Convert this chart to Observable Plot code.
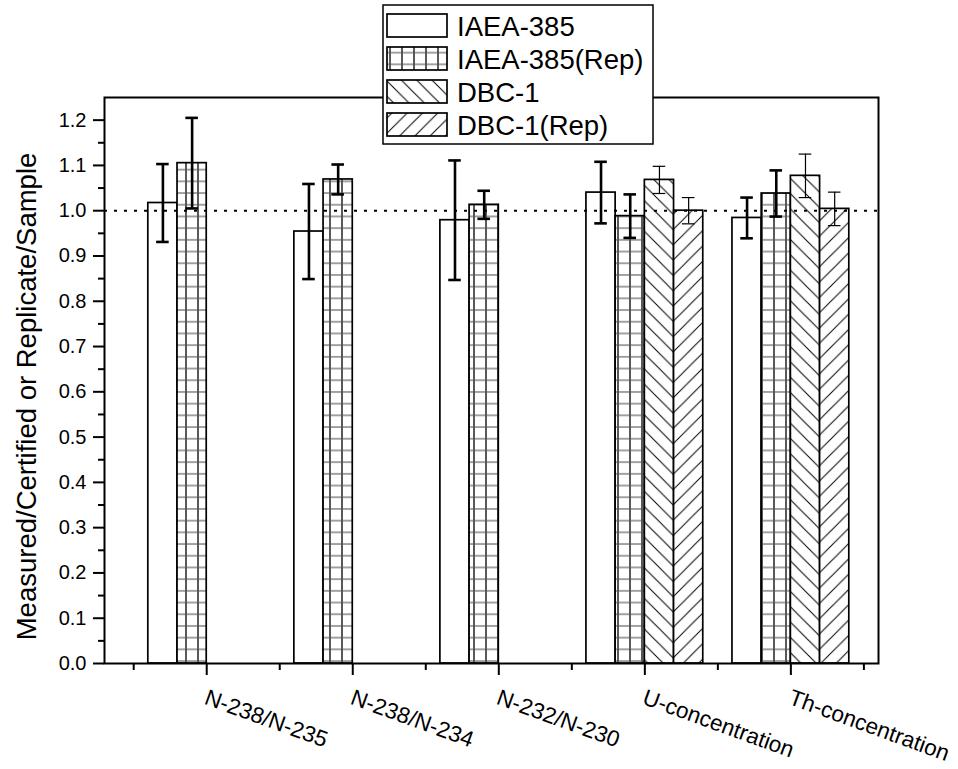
<!DOCTYPE html>
<html>
<head>
<meta charset="utf-8">
<script src="https://cdn.jsdelivr.net/npm/d3@7"></script>
<script src="https://cdn.jsdelivr.net/npm/@observablehq/plot@0.6"></script>
<style>
  html, body { margin: 0; padding: 0; background: #fff; }
  #wrap { position: relative; width: 958px; height: 769px; font-family: Arial, "Liberation Sans", sans-serif; }
  #legend { position: absolute; left: 0; top: 0; pointer-events: none; }
</style>
</head>
<body>
<svg width="0" height="0" style="position:absolute">
  <defs>
    <pattern id="pat-grid" patternUnits="userSpaceOnUse" width="12" height="11.7">
      <rect width="12" height="11.7" fill="white"/>
      <path d="M6,-1 V12.7" stroke="black" stroke-width="1.3"/>
      <path d="M-1,5.85 H13" stroke="#555" stroke-width="1.1"/>
    </pattern>
    <pattern id="pat-back" patternUnits="userSpaceOnUse" width="15.3" height="15.3">
      <rect width="15.3" height="15.3" fill="white"/>
      <path d="M-1,-1 L16.3,16.3 M-1,14.3 L1,16.3 M14.3,-1 L16.3,1" stroke="black" stroke-width="1"/>
    </pattern>
    <pattern id="pat-fwd" patternUnits="userSpaceOnUse" width="15.3" height="15.3">
      <rect width="15.3" height="15.3" fill="white"/>
      <path d="M-1,16.3 L16.3,-1 M-1,1 L1,-1 M14.3,16.3 L16.3,14.3" stroke="black" stroke-width="1"/>
    </pattern>
  </defs>
</svg>
<div id="wrap"></div>
<script>
// ---------- data ----------
const categories = ["N-238/N-235", "N-238/N-234", "N-232/N-230", "U-concentration", "Th-concentration"];
const series = ["IAEA-385", "IAEA-385(Rep)", "DBC-1", "DBC-1(Rep)"];
const iaea       = [1.017, 0.954, 0.979, 1.040, 0.984];
const iaeaErr    = [0.086, 0.105, 0.132, 0.068, 0.045];
const iaeaRep    = [1.105, 1.069, 1.013, 0.988, 1.038];
const iaeaRepErr = [0.100, 0.033, 0.031, 0.048, 0.051];
const dbc        = [null, null, null, 1.068, 1.077];
const dbcErr     = [null, null, null, 0.030, 0.048];
const dbcRep     = [null, null, null, 1.000, 1.004];
const dbcRepErr  = [null, null, null, 0.029, 0.037];
const yTicks      = [0, 0.1, 0.2, 0.3, 0.4, 0.5, 0.6, 0.7, 0.8, 0.9, 1.0, 1.1, 1.2];
const yMinorTicks = [0.05, 0.15, 0.25, 0.35, 0.45, 0.55, 0.65, 0.75, 0.85, 0.95, 1.05, 1.15];
const xMinorTicks = [0.5, 1.5, 2.5, 3.5, 4.5, 5.5];
const yLabel = "Measured/Certified or Replicate/Sample";

// ---------- styling ----------
const fills = ["white", "url(#pat-grid)", "url(#pat-back)", "url(#pat-fwd)"];
const errWidth = [2.6, 2.6, 1.2, 1.2];
const barW = 0.2;       // in x units
const capHalf = 0.043;  // in x units

const values = [iaea, iaeaRep, dbc, dbcRep];
const errors = [iaeaErr, iaeaRepErr, dbcErr, dbcRepErr];
const rows = [];
series.forEach((s, k) => {
  categories.forEach((c, i) => {
    const v = values[k][i];
    if (v == null) return;
    const x1 = (i + 1) + (k - 2) * barW;
    rows.push({series: s, k, category: c, x1, x2: x1 + barW, xc: x1 + barW / 2,
               v, lo: v - errors[k][i], hi: v + errors[k][i]});
  });
});

const font = 'Arial, "Liberation Sans", sans-serif';

const chart = Plot.plot({
  width: 958,
  height: 769,
  marginLeft: 104,
  marginRight: 80,
  marginTop: 97,
  marginBottom: 106,
  style: {fontFamily: font, background: "white", color: "black", overflow: "visible"},
  x: {type: "linear", domain: [0.3, 5.6]},
  y: {domain: [0, 1.25]},
  marks: [
    Plot.rect(rows, {x1: "x1", x2: "x2", y1: 0, y2: "v", fill: d => fills[d.k], stroke: "black", strokeWidth: 1.7}),
    Plot.ruleY([1], {stroke: "black", strokeWidth: 2, strokeDasharray: "3,7"}),
    // error bars
    Plot.ruleX(rows, {x: "xc", y1: "lo", y2: "hi", stroke: "black", strokeWidth: d => errWidth[d.k]}),
    Plot.ruleY(rows, {y: "hi", x1: d => d.xc - capHalf, x2: d => d.xc + capHalf, stroke: "black", strokeWidth: d => errWidth[d.k]}),
    Plot.ruleY(rows, {y: "lo", x1: d => d.xc - capHalf, x2: d => d.xc + capHalf, stroke: "black", strokeWidth: d => errWidth[d.k]}),
    // axes
    Plot.axisY({ticks: yTicks, tickFormat: d3.format(".1f"), tickSize: 11, tickPadding: 7, fontSize: 20, strokeWidth: 2, label: null}),
    Plot.axisY({ticks: yMinorTicks, tickFormat: () => "", tickSize: 6, strokeWidth: 2, label: null}),
    Plot.axisX({ticks: [1, 2, 3, 4, 5], tickFormat: () => "", tickSize: 12, strokeWidth: 2, label: null}),
    Plot.axisX({ticks: xMinorTicks, tickFormat: () => "", tickSize: 7, strokeWidth: 2, label: null}),
    Plot.text(categories, {x: (d, i) => i + 1, frameAnchor: "bottom", dx: 2, dy: 25, rotate: 20,
      textAnchor: "start", lineAnchor: "top", fontSize: 22.5, fill: "black"}),
    Plot.text([yLabel], {frameAnchor: "left", dx: -77, dy: 16, rotate: -90, textAnchor: "middle",
      lineAnchor: "middle", fontSize: 27.5, fill: "black"}),
    Plot.frame({stroke: "black", strokeWidth: 2})
  ]
});
document.getElementById("wrap").appendChild(chart);

// ---------- legend (overlay) ----------
const lg = d3.select("#wrap").append("svg")
  .attr("id", "legend").attr("width", 958).attr("height", 160);
lg.append("rect").attr("x", 383).attr("y", 5).attr("width", 270).attr("height", 139)
  .attr("fill", "white").attr("stroke", "black").attr("stroke-width", 1.5);
series.forEach((s, k) => {
  const y0 = 14 + k * 33;
  lg.append("rect").attr("x", 387).attr("y", y0).attr("width", 60).attr("height", 23)
    .attr("fill", fills[k]).attr("stroke", "black").attr("stroke-width", 1.7);
  lg.append("text").attr("x", 457).attr("y", y0 + 12).attr("dy", "0.35em")
    .attr("font-family", font).attr("font-size", 27.5).attr("fill", "black").text(s);
});
</script>
</body>
</html>
